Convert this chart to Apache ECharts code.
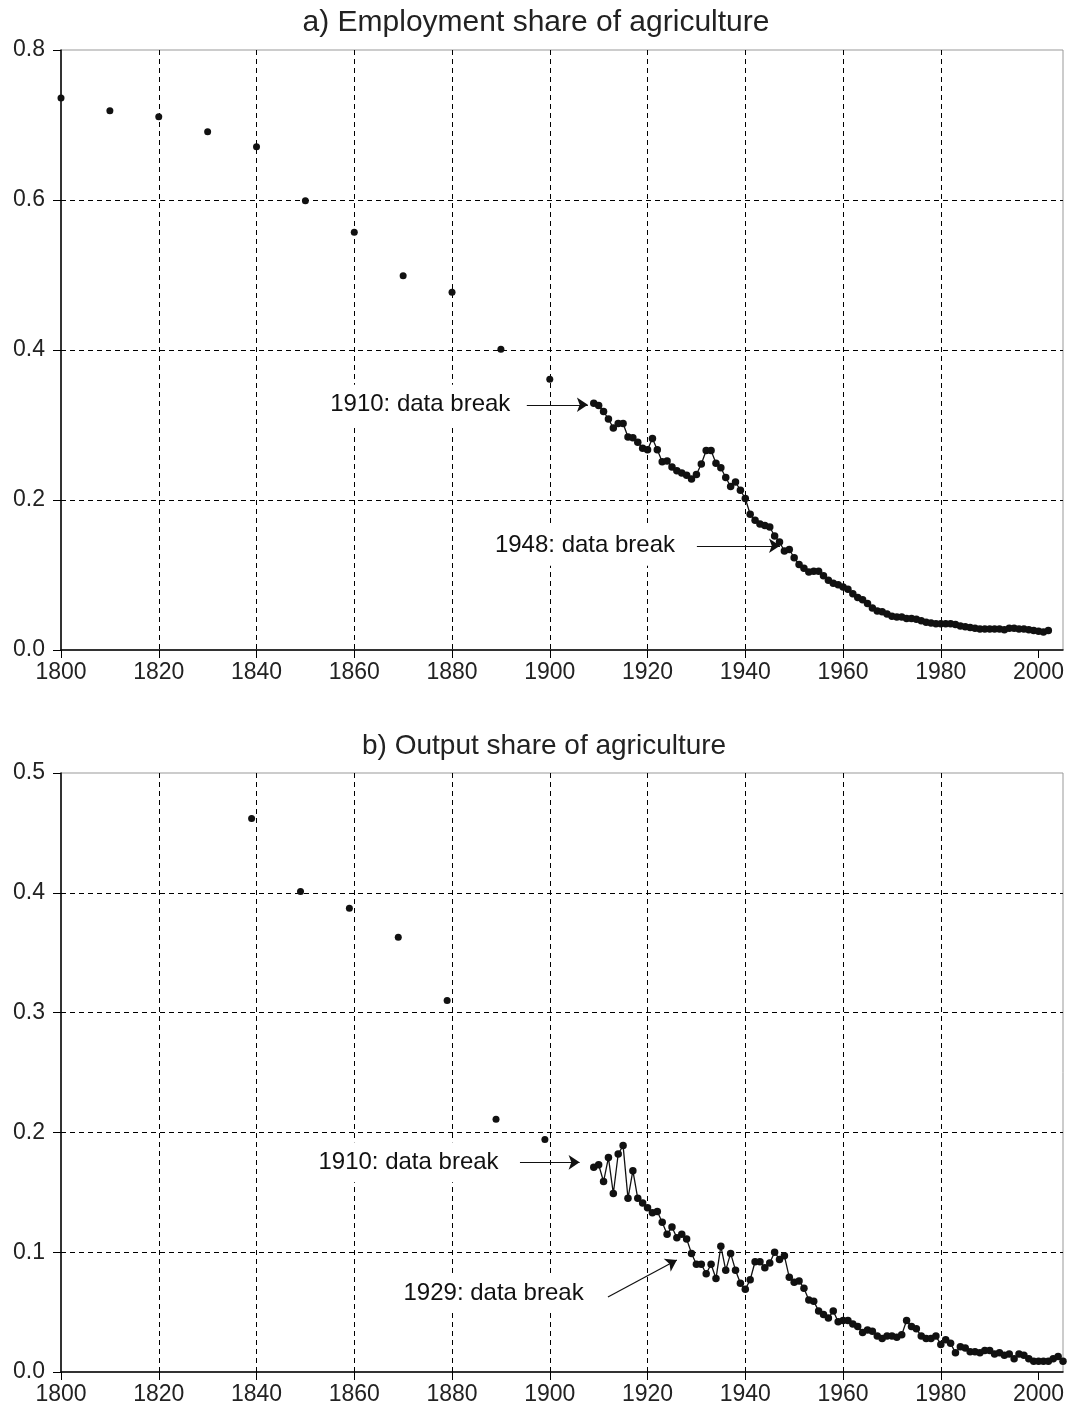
<!DOCTYPE html>
<html>
<head>
<meta charset="utf-8">
<title>Agriculture shares</title>
<script src="https://cdn.jsdelivr.net/npm/echarts@6.0.0/dist/echarts.min.js"></script>
<style>
    html, body { margin: 0; padding: 0; background: #fff; }
    #main { width: 1072px; height: 1421px; }
</style>
</head>
<body>
<div id="main"></div>
<script>
(function () {
    'use strict';

    // tick labels on the year axes
    var yearTicks = [1800, 1820, 1840, 1860, 1880, 1900, 1920, 1940, 1960, 1980, 2000];

    // a) employment share, decade observations
    var empDecadeYears = [1800, 1810, 1820, 1830, 1840, 1850, 1860, 1870, 1880, 1890, 1900];
    var empDecadeShare = [0.736, 0.719, 0.711, 0.691, 0.671, 0.599, 0.557, 0.499, 0.477, 0.401, 0.361];

    // a) employment share, annual
    var empYears = [
        1909, 1910, 1911, 1912, 1913, 1914, 1915, 1916, 1917, 1918, 1919,
        1920, 1921, 1922, 1923, 1924, 1925, 1926, 1927, 1928, 1929,
        1930, 1931, 1932, 1933, 1934, 1935, 1936, 1937, 1938, 1939,
        1940, 1941, 1942, 1943, 1944, 1945, 1946, 1947, 1948, 1949,
        1950, 1951, 1952, 1953, 1954, 1955, 1956, 1957, 1958, 1959,
        1960, 1961, 1962, 1963, 1964, 1965, 1966, 1967, 1968, 1969,
        1970, 1971, 1972, 1973, 1974, 1975, 1976, 1977, 1978, 1979,
        1980, 1981, 1982, 1983, 1984, 1985, 1986, 1987, 1988, 1989,
        1990, 1991, 1992, 1993, 1994, 1995, 1996, 1997, 1998, 1999,
        2000, 2001, 2002
    ];
    var empShare = [
        0.329, 0.326, 0.318, 0.308, 0.296, 0.302, 0.302, 0.284, 0.283, 0.277, 0.269,
        0.267, 0.282, 0.267, 0.251, 0.252, 0.244, 0.239, 0.236, 0.233, 0.228,
        0.234, 0.248, 0.266, 0.266, 0.249, 0.243, 0.230, 0.218, 0.224, 0.213,
        0.202, 0.181, 0.173, 0.168, 0.166, 0.164, 0.152, 0.144, 0.132, 0.134,
        0.123, 0.114, 0.109, 0.104, 0.105, 0.105, 0.099, 0.093, 0.089, 0.087,
        0.084, 0.081, 0.075, 0.070, 0.067, 0.062, 0.056, 0.052, 0.051, 0.048,
        0.045, 0.044, 0.044, 0.042, 0.042, 0.041, 0.039, 0.037, 0.036, 0.035,
        0.035, 0.035, 0.035, 0.034, 0.032, 0.031, 0.030, 0.029, 0.028, 0.028,
        0.028, 0.028, 0.028, 0.027, 0.029, 0.029, 0.028, 0.028, 0.027, 0.026,
        0.025, 0.024, 0.026
    ];

    // b) output share, decade observations
    var outDecadeYears = [1839, 1849, 1859, 1869, 1879, 1889, 1899];
    var outDecadeShare = [0.462, 0.401, 0.387, 0.363, 0.310, 0.211, 0.194];

    // b) output share, annual
    var outYears = [
        1909, 1910, 1911, 1912, 1913, 1914, 1915, 1916, 1917, 1918, 1919,
        1920, 1921, 1922, 1923, 1924, 1925, 1926, 1927, 1928, 1929,
        1930, 1931, 1932, 1933, 1934, 1935, 1936, 1937, 1938, 1939,
        1940, 1941, 1942, 1943, 1944, 1945, 1946, 1947, 1948, 1949,
        1950, 1951, 1952, 1953, 1954, 1955, 1956, 1957, 1958, 1959,
        1960, 1961, 1962, 1963, 1964, 1965, 1966, 1967, 1968, 1969,
        1970, 1971, 1972, 1973, 1974, 1975, 1976, 1977, 1978, 1979,
        1980, 1981, 1982, 1983, 1984, 1985, 1986, 1987, 1988, 1989,
        1990, 1991, 1992, 1993, 1994, 1995, 1996, 1997, 1998, 1999,
        2000, 2001, 2002, 2003, 2004, 2005
    ];
    var outShare = [
        0.171, 0.173, 0.159, 0.179, 0.149, 0.182, 0.189, 0.145, 0.168, 0.145, 0.141,
        0.137, 0.133, 0.134, 0.125, 0.115, 0.121, 0.112, 0.115, 0.111, 0.099,
        0.090, 0.090, 0.082, 0.090, 0.078, 0.105, 0.085, 0.099, 0.085, 0.074,
        0.069, 0.077, 0.092, 0.092, 0.087, 0.091, 0.100, 0.094, 0.097, 0.079,
        0.075, 0.076, 0.070, 0.060, 0.059, 0.051, 0.048, 0.045, 0.051, 0.042,
        0.043, 0.043, 0.040, 0.038, 0.033, 0.035, 0.034, 0.030, 0.028, 0.030,
        0.030, 0.029, 0.031, 0.043, 0.038, 0.036, 0.030, 0.028, 0.028, 0.030,
        0.023, 0.027, 0.024, 0.016, 0.021, 0.020, 0.017, 0.017, 0.016, 0.018,
        0.018, 0.015, 0.016, 0.014, 0.015, 0.011, 0.015, 0.014, 0.011, 0.009,
        0.009, 0.009, 0.009, 0.011, 0.013, 0.009
    ];

    var FONT = '"Liberation Sans", Arial, Helvetica, sans-serif';
    var INK = '#111';

    function pairs(xs, ys) {
        return xs.map(function (x, i) { return [x, ys[i]]; });
    }

    function xAxisFor(gridIndex) {
        return {
            type: 'value',
            gridIndex: gridIndex,
            min: 1800,
            max: 2005,
            interval: 20,
            axisLine: { show: true, onZero: false, lineStyle: { color: '#000', width: 1.5 } },
            axisTick: { show: true, length: 8, customValues: yearTicks, lineStyle: { color: '#000' } },
            axisLabel: {
                customValues: yearTicks,
                margin: 11,
                fontSize: 23,
                fontFamily: FONT,
                color: '#222',
                formatter: function (v) { return String(v); }
            },
            splitLine: {
                show: true,
                showMinLine: false,
                showMaxLine: false,
                lineStyle: { color: '#000', type: [5, 4], width: 1 }
            }
        };
    }

    function yAxisFor(gridIndex, max, interval) {
        return {
            type: 'value',
            gridIndex: gridIndex,
            min: 0,
            max: max,
            interval: interval,
            axisLine: { show: true, onZero: false, lineStyle: { color: '#000', width: 1.5 } },
            axisTick: { show: true, length: 8, lineStyle: { color: '#000' } },
            axisLabel: {
                margin: 16,
                fontSize: 23,
                fontFamily: FONT,
                color: '#222',
                formatter: function (v) { return v.toFixed(1); }
            },
            splitLine: {
                show: true,
                showMinLine: false,
                showMaxLine: false,
                lineStyle: { color: '#000', type: [5, 4], width: 1 }
            }
        };
    }

    function arrow(from, to) {
        return [{ coord: from }, { coord: to }];
    }

    function note(text, at) {
        return { name: text, coord: at };
    }

    function annotations(arrows, notes) {
        return {
            markLine: {
                silent: true,
                symbol: ['none', 'arrow'],
                symbolSize: 11,
                label: { show: false },
                lineStyle: { color: INK, type: 'solid', width: 1.2 },
                itemStyle: { color: INK },
                data: arrows
            },
            markPoint: {
                silent: true,
                symbol: 'circle',
                symbolSize: 0,
                label: {
                    show: true,
                    position: 'inside',
                    formatter: '{b}',
                    fontSize: 24,
                    fontFamily: FONT,
                    color: INK,
                    backgroundColor: '#fff',
                    padding: [8, 6]
                },
                data: notes
            }
        };
    }

    function dots(xi, data) {
        return {
            type: 'scatter',
            xAxisIndex: xi,
            yAxisIndex: xi,
            symbol: 'circle',
            symbolSize: 7,
            itemStyle: { color: INK, opacity: 1 },
            data: data,
            silent: true
        };
    }

    function annual(xi, data, extra) {
        var s = {
            type: 'line',
            xAxisIndex: xi,
            yAxisIndex: xi,
            symbol: 'circle',
            symbolSize: 7.5,
            showSymbol: true,
            showAllSymbol: true,
            itemStyle: { color: INK, opacity: 1 },
            lineStyle: { color: INK, width: 1.3 },
            data: data,
            silent: true,
            animation: false
        };
        s.markLine = extra.markLine;
        s.markPoint = extra.markPoint;
        return s;
    }

    var myChart = echarts.init(document.getElementById('main'), null, { renderer: 'canvas' });

    var option = {
        animation: false,
        backgroundColor: '#fff',
        title: [
            {
                text: 'a) Employment share of agriculture',
                left: 'center',
                top: 3,
                textStyle: { fontSize: 30, fontWeight: 'normal', fontFamily: FONT, color: '#222' }
            },
            {
                text: 'b) Output share of agriculture',
                left: 357,
                top: 727,
                textStyle: { fontSize: 28, fontWeight: 'normal', fontFamily: FONT, color: '#222' }
            }
        ],
        grid: [
            { left: 61, top: 50, width: 1002, height: 600, show: true, borderColor: '#999', borderWidth: 1, backgroundColor: '#fff' },
            { left: 61, top: 773, width: 1002, height: 599, show: true, borderColor: '#999', borderWidth: 1, backgroundColor: '#fff' }
        ],
        xAxis: [xAxisFor(0), xAxisFor(1)],
        yAxis: [yAxisFor(0, 0.8, 0.2), yAxisFor(1, 0.5, 0.1)],
        series: [
            dots(0, pairs(empDecadeYears, empDecadeShare)),
            annual(0, pairs(empYears, empShare), annotations(
                [
                    arrow([1895.3, 0.327], [1907.8, 0.327]),
                    arrow([1930.1, 0.139], [1947.1, 0.139])
                ],
                [
                    note('1910: data break', [1873.5, 0.327]),
                    note('1948: data break', [1907.2, 0.139])
                ]
            )),
            dots(1, pairs(outDecadeYears, outDecadeShare)),
            annual(1, pairs(outYears, outShare), annotations(
                [
                    arrow([1893.9, 0.175], [1906.1, 0.175]),
                    arrow([1911.9, 0.0626], [1926.0, 0.0935])
                ],
                [
                    note('1910: data break', [1871.1, 0.175]),
                    note('1929: data break', [1888.5, 0.066])
                ]
            ))
        ]
    };

    myChart.setOption(option);
})();
</script>
</body>
</html>
